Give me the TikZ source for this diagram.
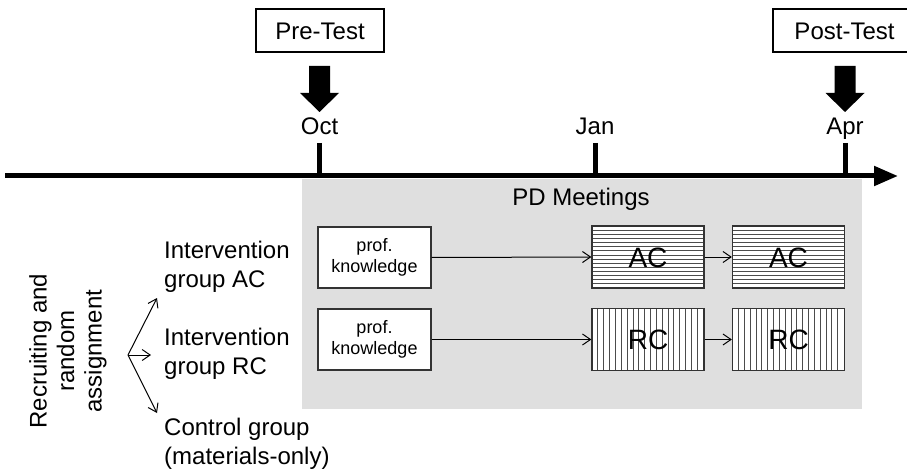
\documentclass[tikz,border=0pt]{standalone}
\usepackage{fontspec}
\setmainfont{Liberation Sans}
\usetikzlibrary{arrows.meta,calc}
\tikzset{
  big/.style={font=\fontsize{24}{29}\selectfont, inner sep=0pt},
  testbox/.style={draw, line width=1.2pt, minimum height=43pt, inner sep=0pt, text height=17.2pt, text depth=0pt, font=\fontsize{24}{29}\selectfont},
  profbox/.style={draw=black!80, line width=1.3pt, fill=white, minimum width=113pt, minimum height=61pt, inner sep=0pt, align=center, font=\fontsize{18}{20.5}\selectfont},
  hbox/.style={draw=black!80, line width=1.3pt, fill=white, minimum width=112pt, minimum height=62pt, inner sep=0pt, text height=20pt, text depth=0pt, font=\fontsize{28}{32}\selectfont,
    path picture={\foreach \k in {1,...,14}{\draw[black!70, line width=0.7pt] ($(path picture bounding box.north west)+(0,\k*4.13)$) -- ($(path picture bounding box.north east)+(0,\k*4.13)$);}}},
  vbox/.style={draw=black!80, line width=1.3pt, fill=white, minimum width=112pt, minimum height=62pt, inner sep=0pt, text height=20pt, text depth=0pt, font=\fontsize{28}{32}\selectfont,
    path picture={\foreach \k in {1,...,18}{\draw[black!70, line width=0.7pt] ($(path picture bounding box.north west)+(\k*5.84,0)$) -- ($(path picture bounding box.south west)+(\k*5.84,0)$);}}},
  conn/.style={line width=1pt, -{Straight Barb[length=8pt,width=11pt]}},
}
\begin{document}
\begin{tikzpicture}[x=1pt,y=-1pt]
\useasboundingbox (0,0) rectangle (907,473);
% gray PD area
\node[fill=gray!25, minimum width=560pt, minimum height=230pt, inner sep=0pt, anchor=north west] (pd) at (302,179) {};
\node[big, anchor=base] (pdlabel) at (581,206) {PD Meetings};
% timeline
\coordinate (tls) at (5,176);
\coordinate (tle) at (898,176);
\draw[line width=5pt, -{Triangle[length=24pt,width=19pt]}] (tls) -- (tle);
% ticks
\coordinate (toct) at (319.5,143); \coordinate (boct) at (319.5,176);
\coordinate (tjan) at (595,143);   \coordinate (bjan) at (595,176);
\coordinate (tapr) at (845,143);   \coordinate (bapr) at (845,176);
\draw[line width=5pt] (toct) -- (boct);
\draw[line width=5pt] (tjan) -- (bjan);
\draw[line width=5pt] (tapr) -- (bapr);
% month labels
\node[big, anchor=base] (oct) at (319.5,135) {Oct};
\node[big, anchor=base] (jan) at (595,135) {Jan};
\node[big, anchor=base] (apr) at (845,135) {Apr};
% tests
\node[testbox, minimum width=128pt] (pre) at (320,30.5) {Pre-Test};
\node[testbox, minimum width=143pt] (post) at (844.5,30.5) {Post-Test};
% block arrows
\foreach \cx in {319.5,845}{
  \fill (\cx-10.5,66) -- (\cx+10.5,66) -- (\cx+10.5,93) -- (\cx+19.5,93) -- (\cx,112) -- (\cx-19.5,93) -- (\cx-10.5,93) -- cycle;
}
% row boxes
\node[profbox] (p1) at (374.5,257.5) {prof.\\knowledge};
\node[profbox] (p2) at (374.5,339.5) {prof.\\knowledge};
\node[hbox] (ac1) at (648,257) {AC};
\node[hbox] (ac2) at (788.5,257) {AC};
\node[vbox] (rc1) at (648,339.5) {RC};
\node[vbox] (rc2) at (788.5,339.5) {RC};
\draw[conn] (p1.east) -- (ac1.west);
\draw[conn] (ac1.east) -- (ac2.west);
\draw[conn] (p2.east) -- (rc1.west);
\draw[conn] (rc1.east) -- (rc2.west);
% group labels
\node[big, anchor=west, align=left] (gac) at (164,267) {Intervention\\group AC};
\node[big, anchor=west, align=left] (grc) at (164,354) {Intervention\\group RC};
\node[big, anchor=west, align=left] (gct) at (164,444) {Control group\\(materials-only)};
% recruiting
\node[inner sep=0pt, rotate=90, align=center, font=\fontsize{24}{27.5}\selectfont] (rec) at (68,351) {Recruiting and\\random\\assignment};
\coordinate (fork) at (128,355);
\coordinate (fac) at (157,298);
\coordinate (frc) at (151,355);
\coordinate (fct) at (157,413);
\draw[conn] (fork) -- (fac);
\draw[conn] (fork) -- (frc);
\draw[conn] (fork) -- (fct);
\end{tikzpicture}
\end{document}
